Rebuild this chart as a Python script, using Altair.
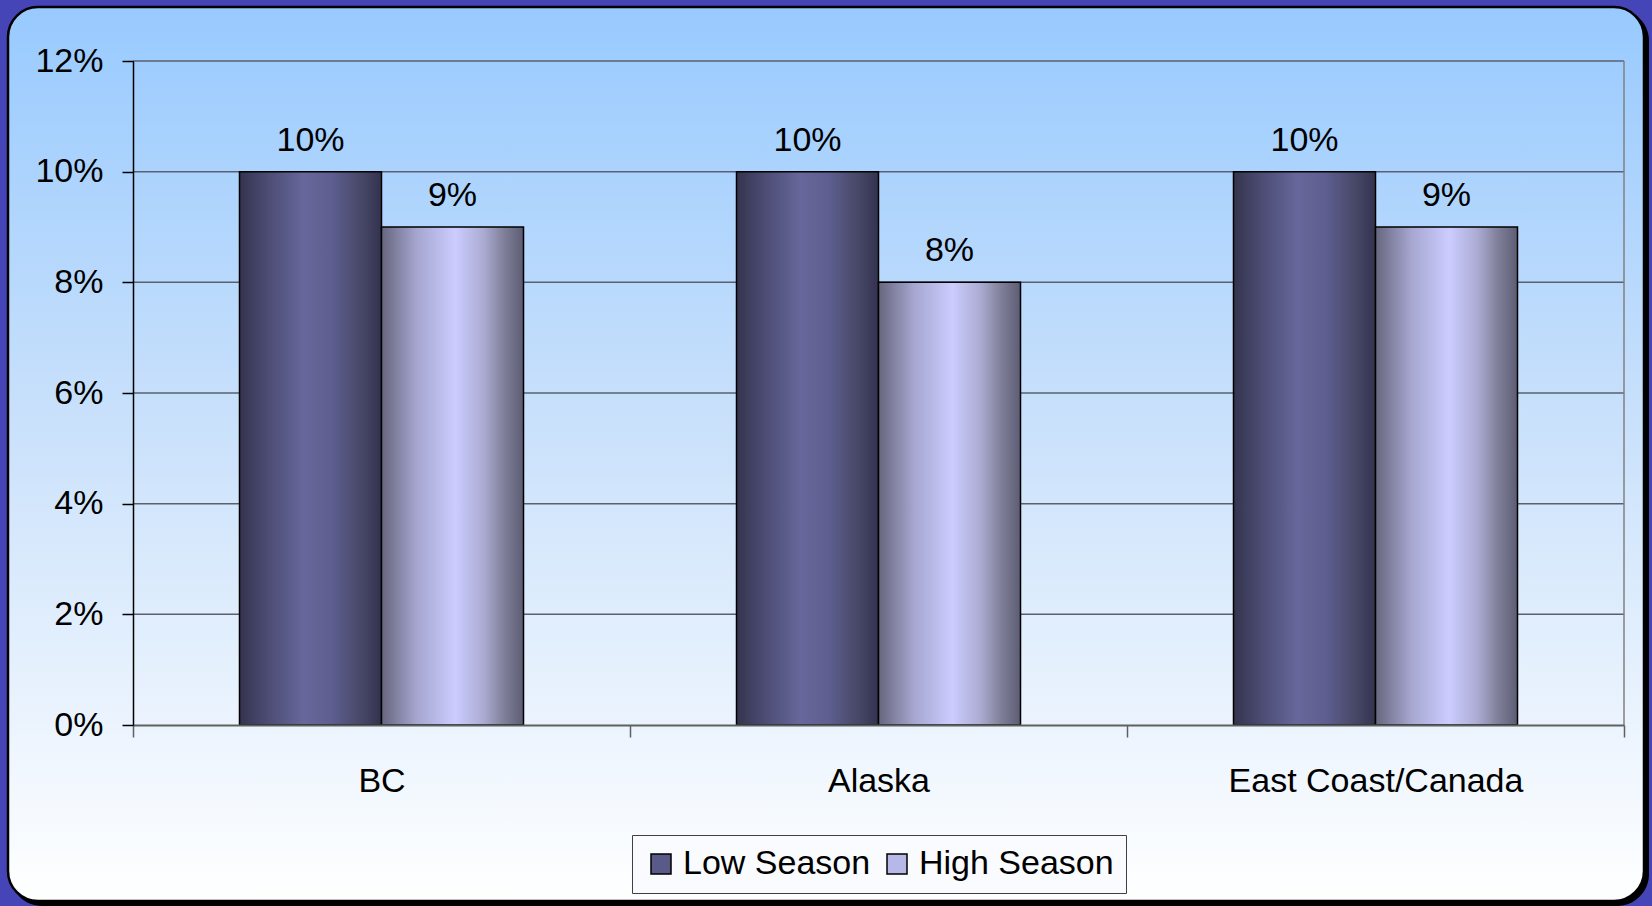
import altair as alt
import pandas as pd

# Share of bookings by region and season
regions = ["BC", "Alaska", "East Coast/Canada"]
seasons = ["Low Season", "High Season"]
low_season = [0.10, 0.10, 0.10]
high_season = [0.09, 0.08, 0.09]
y_ticks = [0.0, 0.02, 0.04, 0.06, 0.08, 0.10, 0.12]

rows = []
for region, lo, hi in zip(regions, low_season, high_season):
    rows.append({"region": region, "season": "Low Season", "share": lo})
    rows.append({"region": region, "season": "High Season", "share": hi})
df = pd.DataFrame(rows)
grid_df = pd.DataFrame({"share": y_ticks})
one = pd.DataFrame({"k": [0]})

W, H = 1491, 664
FONT = "Liberation Sans"
FS = 34

x_enc = alt.X(
    "region:N",
    sort=regions,
    scale=alt.Scale(paddingInner=0, paddingOuter=0),
    axis=alt.Axis(
        title=None, labelAngle=0, tickBand="extent", tickSize=12,
        tickColor="#606060", tickWidth=1.5, domainColor="#606060",
        domainWidth=2, labelFontSize=FS, labelPadding=27, labelColor="black",
        labelFont=FONT, labelLimit=0, grid=False, zindex=1,
    ),
)
xo_enc = alt.XOffset(
    "season:N", sort=seasons,
    scale=alt.Scale(domain=seasons, paddingInner=0, paddingOuter=0.75),
)
y_enc = alt.Y(
    "share:Q",
    scale=alt.Scale(domain=[0, 0.12]),
    axis=alt.Axis(
        title=None, values=y_ticks, format=".0%", tickSize=11,
        tickColor="black", tickWidth=1.5, domainColor="black",
        domainWidth=1.5, labelFontSize=FS, labelPadding=19,
        labelColor="black", labelFont=FONT, grid=False, zindex=1,
    ),
)

low_fill = alt.Gradient(
    gradient="linear", x1=0, y1=0, x2=1, y2=0,
    stops=[
        alt.GradientStop(offset=0.0, color="#34344e"),
        alt.GradientStop(offset=0.2, color="#4c4c74"),
        alt.GradientStop(offset=0.45, color="#67679b"),
        alt.GradientStop(offset=0.65, color="#5e5e90"),
        alt.GradientStop(offset=0.85, color="#484868"),
        alt.GradientStop(offset=1.0, color="#333350"),
    ],
)
high_fill = alt.Gradient(
    gradient="linear", x1=0, y1=0, x2=1, y2=0,
    stops=[
        alt.GradientStop(offset=0.0, color="#66667e"),
        alt.GradientStop(offset=0.25, color="#a6a6d0"),
        alt.GradientStop(offset=0.52, color="#ccccff"),
        alt.GradientStop(offset=0.72, color="#ababd2"),
        alt.GradientStop(offset=0.86, color="#80809a"),
        alt.GradientStop(offset=1.0, color="#5c5c74"),
    ],
)
panel_fill = alt.Gradient(
    gradient="linear", x1=0, y1=0, x2=0, y2=1,
    stops=[
        alt.GradientStop(offset=0.0, color="#98caff"),
        alt.GradientStop(offset=0.45, color="#c8e0fb"),
        alt.GradientStop(offset=1.0, color="#ffffff"),
    ],
)

# Rounded panel with a drop shadow behind the plot
shadow = alt.Chart(one).mark_rect(cornerRadius=32, fill="black").encode(
    x=alt.value(-123), x2=alt.value(1516), y=alt.value(-52), y2=alt.value(845)
)
panel = alt.Chart(one).mark_rect(
    cornerRadius=30, fill=panel_fill, stroke="black", strokeWidth=2.5
).encode(
    x=alt.value(-125), x2=alt.value(1511), y=alt.value(-54), y2=alt.value(840)
)

grid = alt.Chart(grid_df).transform_filter("datum.share > 0").mark_rule(
    color="#5a6070", strokeWidth=1.5
).encode(y=y_enc)

right_edge = alt.Chart(one).mark_rule(color="#808080", strokeWidth=1.5).encode(
    x=alt.value(W), y=alt.value(0), y2=alt.value(H)
)

low_bars = alt.Chart(df).transform_filter(
    alt.datum.season == "Low Season"
).mark_bar(fill=low_fill, stroke="black", strokeWidth=1.5).encode(
    x=x_enc, xOffset=xo_enc, y=y_enc
)
high_bars = alt.Chart(df).transform_filter(
    alt.datum.season == "High Season"
).mark_bar(fill=high_fill, stroke="black", strokeWidth=1.5).encode(
    x=x_enc, xOffset=xo_enc, y=y_enc
)

labels = alt.Chart(df).mark_text(
    dy=-21, baseline="alphabetic", fontSize=FS, font=FONT, color="black"
).encode(
    x=x_enc, xOffset=xo_enc, y=y_enc,
    text=alt.Text("share:Q", format=".0%"),
)

legend_layer = alt.Chart(df).mark_square(opacity=0, size=1).encode(
    x=x_enc, xOffset=xo_enc, y=y_enc,
    color=alt.Color(
        "season:N", sort=seasons,
        scale=alt.Scale(domain=seasons, range=["#5a5a8a", "#b8b8e8"]),
        legend=alt.Legend(
            title=None, orient="none", legendX=499, legendY=774,
            direction="horizontal", symbolType="square", symbolSize=400,
            symbolOpacity=1, symbolStrokeColor="black", symbolStrokeWidth=1.5,
            labelFontSize=FS, labelFont=FONT, labelColor="black",
            labelLimit=0, labelOffset=5, columnPadding=9, padding=12,
            strokeColor="#404040", fillColor="#f9fbff", zindex=1,
        ),
    ),
)

chart = alt.layer(
    shadow, panel, grid, right_edge, low_bars, high_bars, labels, legend_layer
).properties(
    width=W, height=H,
    autosize=alt.AutoSizeParams(type="none"),
    padding={"left": 133, "top": 61, "right": 28, "bottom": 181},
    background="#4545b8",
).configure_view(strokeWidth=0).configure(font=FONT)

chart.save("out.html", embed_options={"renderer": "svg", "actions": False})
